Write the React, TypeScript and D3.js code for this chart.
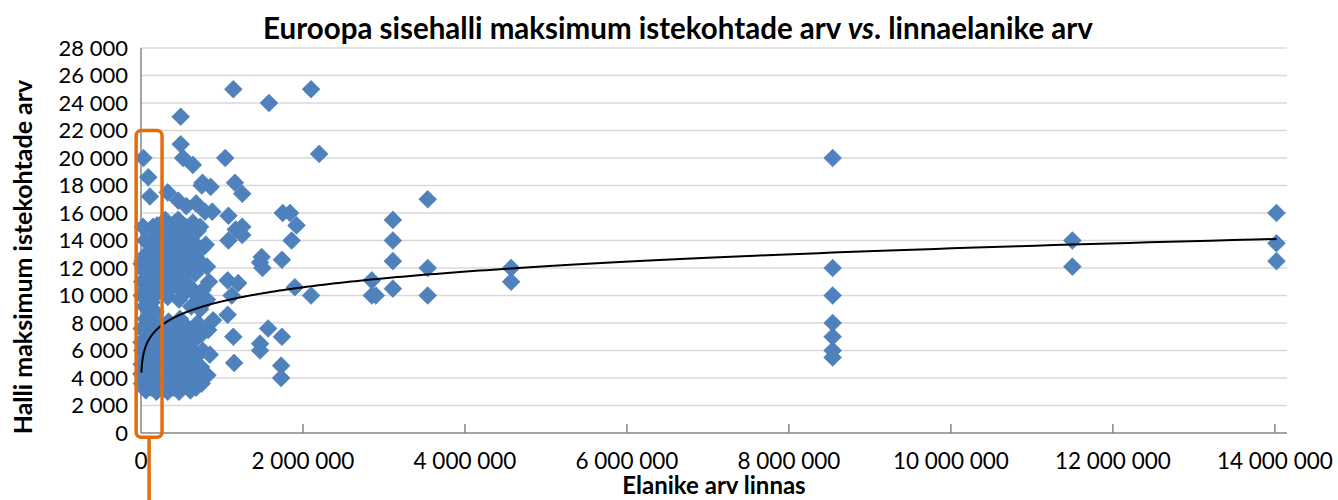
import React from "react";
import * as d3 from "d3";

// ---- Data: [population, max hall seats] ----
const smallCities: [number, number][] = [
  [5000, 4300], [12000, 3600], [8000, 5000], [15000, 6000], [6000, 6600], [10000, 7600],
  [9000, 10000], [14000, 11000], [7000, 12300], [20000, 12500], [25000, 15000], [30000, 20000],
  [60000, 3100], [55000, 4000], [65000, 5500], [50000, 6400], [70000, 7200], [60000, 8300],
  [45000, 9200], [70000, 10500], [55000, 11700], [65000, 13000], [50000, 14000], [90000, 18600],
  [120000, 3300], [110000, 4600], [130000, 5800], [120000, 7000], [110000, 8000], [130000, 9500],
  [120000, 10800], [110000, 12000], [130000, 12900], [120000, 13800], [110000, 17200], [150000, 15000],
  [190000, 3000], [200000, 3900], [180000, 5000], [190000, 6300], [200000, 7600], [180000, 8800],
  [190000, 10100], [200000, 11300], [180000, 12400], [190000, 13500], [170000, 14600], [200000, 15100],
  [260000, 3500], [250000, 4400], [270000, 5400], [260000, 6800], [250000, 7900], [270000, 10400],
  [260000, 11600], [250000, 12800], [270000, 14000], [300000, 15500],
  [330000, 3000], [320000, 4000], [340000, 5100], [330000, 6100], [320000, 7200], [340000, 8100],
  [330000, 9900], [320000, 11000], [340000, 12200], [330000, 13400], [320000, 14600], [330000, 17500],
  [400000, 3300], [410000, 4600], [390000, 5700], [400000, 6700], [410000, 7600], [390000, 10600],
  [400000, 11800], [410000, 12900], [390000, 14100], [420000, 15300],
  [470000, 3000], [460000, 3900], [480000, 4900], [470000, 6000], [460000, 7000], [480000, 8300],
  [470000, 9700], [460000, 10900], [480000, 12000], [470000, 13300], [460000, 14500], [460000, 16900],
  [460000, 15500],
  [540000, 3500], [550000, 4500], [530000, 5400], [540000, 6500], [550000, 7800], [540000, 10200],
  [530000, 11400], [550000, 12500], [540000, 13800], [550000, 15000], [560000, 16500],
  [610000, 3100], [600000, 4100], [620000, 5000], [610000, 6100], [600000, 7300], [620000, 9200],
  [610000, 10600], [600000, 12200], [620000, 13200], [610000, 14400], [640000, 15300],
  [680000, 3300], [690000, 4400], [670000, 5600], [680000, 6900], [700000, 8000], [680000, 10000],
  [670000, 11600], [690000, 12700], [680000, 13700], [700000, 14700], [680000, 16700],
  [750000, 3600], [740000, 4800], [760000, 6000], [750000, 7200], [730000, 9000], [760000, 10400],
  [740000, 12200], [750000, 13400], [730000, 15000], [790000, 16100], [760000, 18200],
  [820000, 4200], [850000, 5700], [830000, 7500], [815000, 9700], [815000, 12100], [800000, 13700],
  [890000, 8200], [860000, 17900], [880000, 16100], [840000, 11000],
  [490000, 23000], [490000, 21000], [520000, 20000], [640000, 19500], [750000, 18000],
];

const midCities: [number, number][] = [
  [1040000, 20000], [1140000, 25000], [1580000, 24000], [2100000, 25000], [2200000, 20300],
  [1160000, 18200], [1250000, 17400], [1080000, 15800], [1170000, 14800], [1250000, 15000],
  [1250000, 14400], [1080000, 14000],
  [1750000, 16000], [1840000, 16000], [1920000, 15100], [1860000, 14000],
  [1490000, 12800], [1470000, 12400], [1500000, 12000], [1740000, 12600],
  [1070000, 11100], [1200000, 10900], [1120000, 10000], [1070000, 8600],
  [1900000, 10600], [2100000, 10000],
  [1140000, 7000], [1150000, 5100],
  [1570000, 7600], [1740000, 7000], [1470000, 6500], [1470000, 6000], [1730000, 4900], [1730000, 4000],
];

const largeCities: [number, number][] = [
  [2850000, 11100], [2850000, 10000], [2900000, 10000],
  [3110000, 15500], [3110000, 14000], [3110000, 12500], [3110000, 10500],
  [3540000, 17000], [3540000, 12000], [3540000, 10000],
  [4570000, 12000], [4570000, 11000],
];

const megaCities: [number, number][] = [
  [8540000, 20000], [8540000, 12000], [8540000, 10000], [8540000, 8000], [8540000, 7000],
  [8540000, 6000], [8540000, 5500],
  [11500000, 14000], [11500000, 12100],
  [14020000, 16000], [14020000, 13800], [14020000, 12500],
];

const xTicks = [0, 2000000, 4000000, 6000000, 8000000, 10000000, 12000000, 14000000];
const yTicks = [0, 2000, 4000, 6000, 8000, 10000, 12000, 14000, 16000, 18000, 20000, 22000, 24000, 26000, 28000];

// power trendline y = a * x^b
const trendA = 1256;
const trendB = 0.147;

// highlighted region (data units)
const highlightPop = [-60000, 260000];
const highlightSeats = [-300, 22000];

const FONT = "Lato, 'Open Sans', sans-serif";

export default function App() {
  const allPoints = [...smallCities, ...midCities, ...largeCities, ...megaCities];
  const x = d3.scaleLinear().domain([0, 14150000]).range([141, 1287]);
  const y = d3.scaleLinear().domain([0, 28000]).range([433, 48]);
  const fmt = d3.formatLocale({ decimal: ",", thousands: " ", grouping: [3], currency: ["", ""] }).format(",");

  const xMin = d3.min(allPoints, (d) => d[0]) as number;
  const xMax = d3.max(allPoints, (d) => d[0]) as number;
  const trendPts: [number, number][] = [];
  const n = 400;
  for (let i = 0; i <= n; i++) {
    const t = i / n;
    const px = Math.exp(Math.log(xMin) + t * (Math.log(xMax) - Math.log(xMin)));
    trendPts.push([px, trendA * Math.pow(px, trendB)]);
  }
  const line = d3.line<[number, number]>().x((d) => x(d[0])).y((d) => y(d[1])).curve(d3.curveLinear);
  const diamond = d3.symbol().type(d3.symbolDiamond2).size(200)();

  const [x0, x1] = x.range();
  const hx0 = x(highlightPop[0]);
  const hx1 = x(highlightPop[1]);
  const hy0 = y(highlightSeats[1]);
  const hy1 = y(highlightSeats[0]);

  return (
    <svg width={1338} height={500} style={{ position: "absolute", left: 0, top: 0, background: "#fff" }} fontFamily={FONT}>
      <text x={678} y={39} textAnchor="middle" fontSize={29.5} fontWeight="bold" fill="#000">
        Euroopa sisehalli maksimum istekohtade arv <tspan fontStyle="italic">vs</tspan>. linnaelanike arv
      </text>
      {yTicks.slice(1).map((t) => (
        <line key={"g" + t} x1={x0} x2={x1} y1={y(t)} y2={y(t)} stroke="#D9D9D9" strokeWidth={1.5} />
      ))}
      {yTicks.map((t) => (
        <text key={"yl" + t} x={128} y={y(t)} dy="0.35em" textAnchor="end" fontSize={22} fill="#000">
          {fmt(t)}
        </text>
      ))}
      <line x1={x0} x2={x0} y1={y(28000)} y2={y(0)} stroke="#868686" strokeWidth={1.5} />
      <line x1={x0} x2={x1} y1={y(0)} y2={y(0)} stroke="#868686" strokeWidth={1.5} />
      {xTicks.slice(1).map((t) => (
        <line key={"xt" + t} x1={x(t)} x2={x(t)} y1={y(0)} y2={y(0) - 9} stroke="#868686" strokeWidth={1.5} />
      ))}
      {xTicks.map((t) => (
        <text key={"xl" + t} x={x(t)} y={469} textAnchor="middle" fontSize={22.5} fill="#000">
          {fmt(t)}
        </text>
      ))}
      <text x={(x0 + x1) / 2} y={494} textAnchor="middle" fontSize={24} fontWeight="bold" fill="#000">
        Elanike arv linnas
      </text>
      <text transform={`translate(32, 257) rotate(-90)`} textAnchor="middle" fontSize={25} fontWeight="bold" fill="#000">
        Halli maksimum istekohtade arv
      </text>
      <g>
        {allPoints.map((d, i) => (
          <path key={i} d={diamond} transform={`translate(${x(d[0])},${y(d[1])})`} fill="#4F81BD" stroke="#4A7EBB" strokeWidth={0.75} />
        ))}
      </g>
      <path d={line(trendPts) || ""} fill="none" stroke="#000" strokeWidth={2} />
      <rect x={hx0} y={hy0} width={hx1 - hx0} height={hy1 - hy0} rx={5} fill="none" stroke="#E46C0A" strokeWidth={3.5} />
      <line x1={(hx0 + hx1) / 2} x2={(hx0 + hx1) / 2} y1={hy1} y2={500} stroke="#E46C0A" strokeWidth={3.5} />
    </svg>
  );
}
